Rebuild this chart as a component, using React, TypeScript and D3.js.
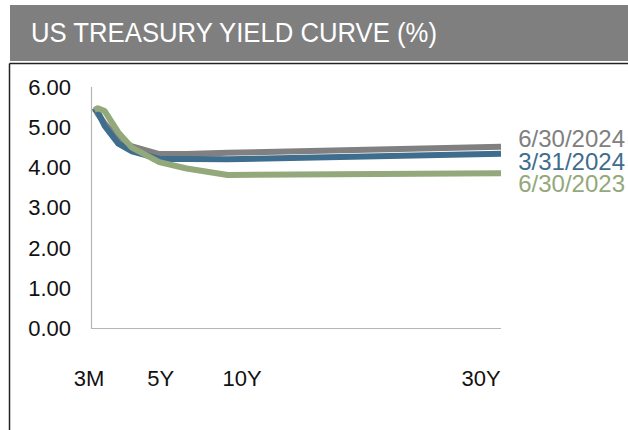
import React from "react";
import * as d3 from "d3";

// tenor in years
const tenors = [0.25, 0.5, 1, 2, 3, 5, 7, 10, 30];

const jun2024 = [5.48, 5.33, 5.09, 4.71, 4.52, 4.33, 4.33, 4.36, 4.51];
const mar2024 = [5.46, 5.38, 5.03, 4.59, 4.4, 4.21, 4.21, 4.2, 4.34];
const jun2023 = [5.43, 5.47, 5.4, 4.87, 4.49, 4.13, 3.97, 3.81, 3.85];

const seriesNames = ["6/30/2024", "3/31/2024", "6/30/2023"];
const seriesValues = [jun2024, mar2024, jun2023];
const seriesColors = ["#808080", "#3f6d8d", "#93a87b"];

const yTicks = [0, 1, 2, 3, 4, 5, 6];
// x labels sit in a row under the plot, not exactly on the tenors
const xLabels = ["3M", "5Y", "10Y", "30Y"];
const xLabelAt = [-0.15, 5.1, 11.05, 28.55];

const W = 628;
const H = 430;
const font = "'Liberation Sans', Arial, sans-serif";

const App = () => {
  const x = d3.scaleLinear().domain([0, 30]).range([91, 501]);
  const y = d3.scaleLinear().domain([0, 6]).range([328, 87]);

  const line = d3
    .line<number>()
    .x((d, i) => x(tenors[i]))
    .y((d) => y(d));

  const labelY = [147, 170, 192];

  return (
    <svg
      width={W}
      height={H}
      style={{ position: "absolute", left: 0, top: 0, display: "block" }}
      fontFamily={font}
    >
      <rect x={0} y={0} width={W} height={H} fill="#fff" />
      {/* header */}
      <rect x={10} y={5} width={W - 10} height={56} fill="#7f7f7f" />
      <text x={31} y={42} fill="#fff" fontSize={27} textLength={406} lengthAdjust="spacingAndGlyphs">
        US TREASURY YIELD CURVE (%)
      </text>

      {/* frame */}
      <line x1={9.5} x2={W} y1={63.5} y2={63.5} stroke="#222" strokeWidth={1.5} />
      <line x1={9.5} x2={9.5} y1={63.5} y2={H} stroke="#222" strokeWidth={1.5} />

      {/* axes */}
      <line x1={91.5} x2={91.5} y1={y(6)} y2={y(0) + 1} stroke="#b5b5b5" strokeWidth={1.2} />
      <line x1={91} x2={x(30)} y1={y(0) + 0.5} y2={y(0) + 0.5} stroke="#b5b5b5" strokeWidth={1.2} />

      {yTicks.map((t) => (
        <text key={t} x={71} y={y(t)} dy="0.36em" textAnchor="end" fontSize={22} fill="#111">
          {t.toFixed(2)}
        </text>
      ))}

      {xLabels.map((l, i) => (
        <text key={l} x={x(xLabelAt[i])} y={386} textAnchor="middle" fontSize={22} fill="#111">
          {l}
        </text>
      ))}

      {seriesValues.map((vals, i) => (
        <path
          key={seriesNames[i]}
          d={line(vals) || ""}
          fill="none"
          stroke={seriesColors[i]}
          strokeWidth={6}
          strokeLinejoin="round"
        />
      ))}

      {seriesNames.map((n, i) => (
        <text key={n} x={625} y={labelY[i]} textAnchor="end" fontSize={24} fill={seriesColors[i]}>
          {n}
        </text>
      ))}
    </svg>
  );
};

export default App;
